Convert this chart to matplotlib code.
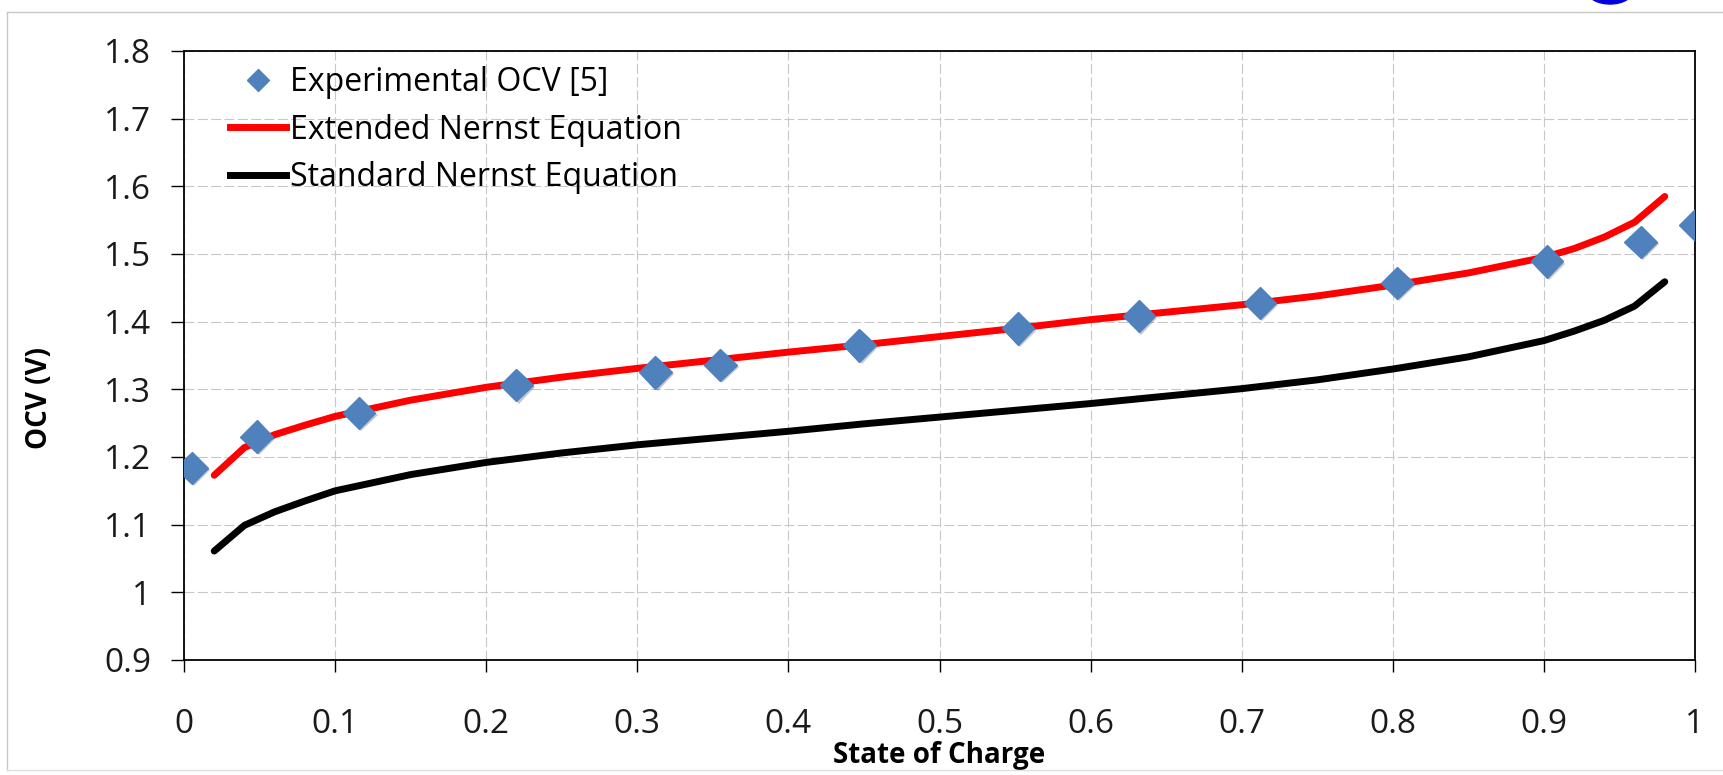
import matplotlib
matplotlib.use("Agg")
import matplotlib.pyplot as plt
import matplotlib.patheffects as pe
from matplotlib.patches import Ellipse
from matplotlib.lines import Line2D

# experimental OCV points
exp_soc = [0.005, 0.048, 0.116, 0.220, 0.312, 0.355, 0.447, 0.552, 0.632, 0.712, 0.803, 0.902, 0.964, 1.0]
exp_ocv = [1.184, 1.230, 1.265, 1.306, 1.325, 1.336, 1.365, 1.390, 1.408, 1.428, 1.457, 1.489, 1.518, 1.543]

# model curves
model_soc = [0.02, 0.04, 0.06, 0.08, 0.10, 0.15, 0.20, 0.25, 0.30, 0.35, 0.40, 0.45, 0.50,
             0.55, 0.60, 0.65, 0.70, 0.75, 0.80, 0.85, 0.90, 0.92, 0.94, 0.96, 0.98]
extended_ocv = [1.173, 1.214, 1.233, 1.247, 1.260, 1.284, 1.303, 1.318, 1.331, 1.343, 1.355, 1.366, 1.378,
                1.390, 1.403, 1.414, 1.425, 1.438, 1.454, 1.472, 1.495, 1.508, 1.525, 1.547, 1.585]
standard_ocv = [1.061, 1.099, 1.119, 1.135, 1.150, 1.174, 1.192, 1.206, 1.218, 1.228, 1.238, 1.249, 1.259,
                1.269, 1.279, 1.290, 1.301, 1.314, 1.330, 1.348, 1.372, 1.386, 1.402, 1.423, 1.459]

labels = ["Experimental OCV [5]", "Extended Nernst Equation", "Standard Nernst Equation"]
x_ticks = [0, 0.1, 0.2, 0.3, 0.4, 0.5, 0.6, 0.7, 0.8, 0.9, 1]
y_ticks = [0.9, 1.0, 1.1, 1.2, 1.3, 1.4, 1.5, 1.6, 1.7, 1.8]
x_ticklabels = ["0", "0.1", "0.2", "0.3", "0.4", "0.5", "0.6", "0.7", "0.8", "0.9", "1"]
y_ticklabels = ["0.9", "1", "1.1", "1.2", "1.3", "1.4", "1.5", "1.6", "1.7", "1.8"]

plt.rcParams['font.family'] = ['Open Sans', 'DejaVu Sans']

W, H = 1723, 775
fig = plt.figure(figsize=(W / 100, H / 100), dpi=100)
ax = fig.add_axes([184 / W, 1 - 660 / H, (1695 - 184) / W, (660 - 51) / H])

blue = "#4F81BD"
ax.plot(model_soc, extended_ocv, color="#FF0000", lw=5, solid_capstyle="round", zorder=3)
ax.plot(model_soc, standard_ocv, color="black", lw=5, solid_capstyle="round", zorder=3)
ax.plot(exp_soc, exp_ocv, ls="none", marker="D", ms=16.5, color=blue, mec=blue, zorder=4,
        path_effects=[pe.SimplePatchShadow(offset=(1.5, -1.5), alpha=0.25), pe.Normal()])

ax.set_xlim(0, 1)
ax.set_ylim(0.9, 1.8)
ax.set_xticks(x_ticks)
ax.set_xticklabels(x_ticklabels)
ax.set_yticks(y_ticks)
ax.set_yticklabels(y_ticklabels)
ax.tick_params(axis="y", direction="out", length=9.5, width=1, pad=14, labelsize=24, colors="black")
ax.tick_params(axis="x", direction="out", length=8.5, width=1, pad=26, labelsize=24, colors="black")
for t in ax.get_xticklabels() + ax.get_yticklabels():
    t.set_color("#1a1a1a")

ax.grid(True, color="#C8C8C8", ls=(0, (9, 3)), lw=0.8, zorder=0)
ax.set_axisbelow(True)
for sp in ax.spines.values():
    sp.set_color("black")
    sp.set_linewidth(1.3)

ax.set_xlabel("State of Charge", fontsize=20, fontweight="bold")
ax.xaxis.set_label_coords(0.5, -0.133)
ax.set_ylabel("OCV (V)", fontsize=20, fontweight="bold")
ax.yaxis.set_label_coords(-0.086, 0.43)

handles = [
    Line2D([], [], ls="none", marker="D", ms=11, color=blue),
    Line2D([], [], color="#FF0000", lw=5),
    Line2D([], [], color="black", lw=5),
]
ax.legend(handles, labels, loc="upper left", bbox_to_anchor=(0.0304, 0.975), frameon=False,
          fontsize=23, borderpad=0, borderaxespad=0, handlelength=1.75, handletextpad=0.12,
          labelspacing=0.45)

# outer light frame of the original figure
fig.add_artist(Line2D([7 / W, 1], [1 - 12 / H, 1 - 12 / H], color="#C8C8C8", lw=1, transform=fig.transFigure))
fig.add_artist(Line2D([7 / W, 7 / W], [1 - 12 / H, 1 - 770 / H], color="#C8C8C8", lw=1, transform=fig.transFigure))
fig.add_artist(Line2D([7 / W, 1], [1 - 770 / H, 1 - 770 / H], color="#E0E0E0", lw=1, transform=fig.transFigure))
# clipped blue shape at the top edge
fig.add_artist(Ellipse((1610 / W, 1 + 8 / H), 44 / W, 24 / H, color="#0000DD", transform=fig.transFigure))

fig.savefig("out.png", dpi=100)
